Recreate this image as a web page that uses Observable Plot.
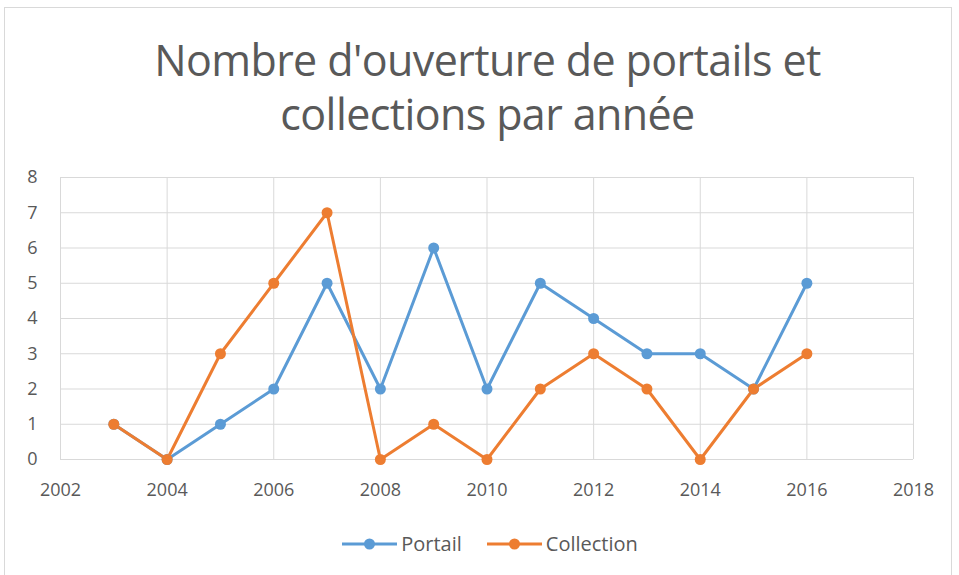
<!DOCTYPE html>
<html>
<head>
<meta charset="utf-8">
<script src="https://cdn.jsdelivr.net/npm/d3@7"></script>
<script src="https://cdn.jsdelivr.net/npm/@observablehq/plot@0.6"></script>
<style>
  html, body { margin: 0; padding: 0; background: #fff; }
  #wrap { position: relative; width: 959px; height: 575px; overflow: hidden; font-family: "Open Sans", "Noto Sans", sans-serif; color: #595959; }
  #border { position: absolute; left: 4px; top: 7px; width: 948px; height: 575px; border: 1px solid #d9d9d9; box-sizing: border-box; }
  #title { position: absolute; left: 0; width: 975px; top: 33px; text-align: center; font-size: 43px; line-height: 54px; color: #595959; letter-spacing: -0.6px; }
  #chart { position: absolute; left: 0; top: 160px; }
  #legend { position: absolute; top: 530px; left: 10px; width: 959px; display: flex; justify-content: center; gap: 24px; font-size: 20px; line-height: 27px; color: #595959; }
  .item { display: flex; align-items: center; gap: 3px; }
</style>
</head>
<body>
<div id="wrap">
  <div id="border"></div>
  <div id="title">Nombre d'ouverture de portails et<br>collections par année</div>
  <div id="chart"></div>
  <div id="legend"></div>
</div>
<script>
const years = [2003, 2004, 2005, 2006, 2007, 2008, 2009, 2010, 2011, 2012, 2013, 2014, 2015, 2016];
const portail = [1, 0, 1, 2, 5, 2, 6, 2, 5, 4, 3, 3, 2, 5];
const collection = [1, 0, 3, 5, 7, 0, 1, 0, 2, 3, 2, 0, 2, 3];
const seriesNames = ["Portail", "Collection"];
const seriesColors = ["#5B9BD5", "#ED7D31"];
const xTicks = [2002, 2004, 2006, 2008, 2010, 2012, 2014, 2016, 2018];
const yTicks = [0, 1, 2, 3, 4, 5, 6, 7, 8];

const data = [];
years.forEach((y, i) => data.push({year: y, value: portail[i], series: seriesNames[0]}));
years.forEach((y, i) => data.push({year: y, value: collection[i], series: seriesNames[1]}));

const chart = Plot.plot({
  width: 959,
  height: 350,
  marginTop: 17,
  marginBottom: 51,
  marginLeft: 60,
  marginRight: 46,
  style: { fontFamily: "'Open Sans', 'Noto Sans', sans-serif", fontSize: "18px", color: "#595959", background: "transparent" },
  x: { domain: [2002, 2018], ticks: xTicks, tickFormat: d => String(d), label: null },
  y: { domain: [0, 8], ticks: yTicks, label: null },
  color: { domain: seriesNames, range: seriesColors },
  marks: [
    Plot.gridX(xTicks, { stroke: "#d9d9d9", strokeOpacity: 1, strokeWidth: 1 }),
    Plot.gridY(yTicks, { stroke: "#d9d9d9", strokeOpacity: 1, strokeWidth: 1 }),
    Plot.axisX(xTicks, { tickSize: 0, tickPadding: 24, tickFormat: d => String(d), fill: "#595959", fontSize: 18 }),
    Plot.axisY(yTicks, { tickSize: 0, tickPadding: 23, fill: "#595959", fontSize: 18 }),
    Plot.line(data, { x: "year", y: "value", z: "series", stroke: "series", strokeWidth: 3, curve: "linear" }),
    Plot.dot(data.filter(d => d.series === seriesNames[0]), { x: "year", y: "value", r: 5.5, fill: seriesColors[0] }),
    Plot.dot(data.filter(d => d.series === seriesNames[1]), { x: "year", y: "value", r: 5.5, fill: seriesColors[1] })
  ]
});
document.getElementById("chart").appendChild(chart);

const legend = document.getElementById("legend");
seriesNames.forEach((name, i) => {
  const item = document.createElement("div");
  item.className = "item";
  item.innerHTML = `<svg width="57" height="14"><line x1="1" y1="7" x2="56" y2="7" stroke="${seriesColors[i]}" stroke-width="3"/><circle cx="28.5" cy="7" r="5.5" fill="${seriesColors[i]}"/></svg><span>${name}</span>`;
  legend.appendChild(item);
});
</script>
</body>
</html>
